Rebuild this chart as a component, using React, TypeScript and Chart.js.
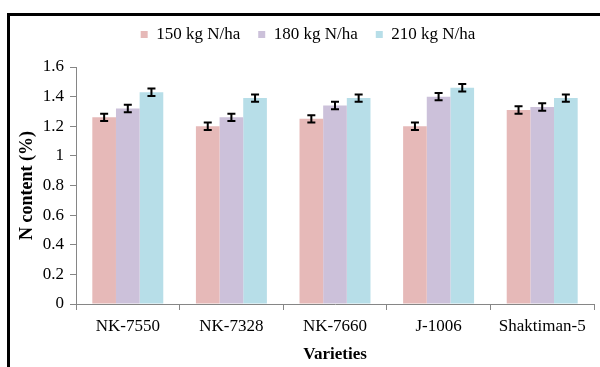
import React, { useEffect, useRef } from "react";
import { Chart, registerables } from "chart.js";

Chart.register(...registerables);

const categories = ["NK-7550", "NK-7328", "NK-7660", "J-1006", "Shaktiman-5"];
const seriesNames = ["150 kg N/ha", "180 kg N/ha", "210 kg N/ha"];
const n150 = [1.26, 1.2, 1.25, 1.2, 1.31];
const n180 = [1.32, 1.26, 1.34, 1.4, 1.33];
const n210 = [1.43, 1.39, 1.39, 1.46, 1.39];
const err150 = [0.025, 0.025, 0.025, 0.025, 0.025];
const err180 = [0.025, 0.025, 0.025, 0.025, 0.025];
const err210 = [0.025, 0.025, 0.025, 0.025, 0.025];
const yTickLabels = ["0", "0.2", "0.4", "0.6", "0.8", "1", "1.2", "1.4", "1.6"];
const yTitle = "N content (%)";
const xTitle = "Varieties";

const colors = ["#E6B9B8", "#CCC1DA", "#B7DEE8"];
const FONT = "'Liberation Serif', 'Times New Roman', serif";
const AXIS = "#868686";

const errorBarPlugin = {
  id: "errorBars",
  afterDatasetsDraw(chart: any) {
    const ctx = chart.ctx;
    const yScale = chart.scales.y;
    ctx.save();
    ctx.strokeStyle = "#000";
    ctx.lineWidth = 2;
    chart.data.datasets.forEach((ds: any, di: number) => {
      const meta = chart.getDatasetMeta(di);
      meta.data.forEach((bar: any, i: number) => {
        const v = ds.data[i];
        const e = ds.errors[i];
        const x = bar.x;
        const yTop = yScale.getPixelForValue(v + e);
        const yBot = yScale.getPixelForValue(v - e);
        const cap = 4;
        ctx.beginPath();
        ctx.moveTo(x, yTop);
        ctx.lineTo(x, yBot);
        ctx.moveTo(x - cap, yTop);
        ctx.lineTo(x + cap, yTop);
        ctx.moveTo(x - cap, yBot);
        ctx.lineTo(x + cap, yBot);
        ctx.stroke();
      });
    });
    ctx.restore();
  },
};

const legendMarginPlugin = {
  id: "legendMargin",
  beforeInit(chart: any) {
    if (!chart.legend) return;
    const origFit = chart.legend.fit;
    chart.legend.fit = function () {
      origFit.call(this);
      this.height += 14;
    };
  },
};

export default function App() {
  const ref = useRef<HTMLCanvasElement | null>(null);

  useEffect(() => {
    if (!ref.current) return;
    const chart = new Chart(ref.current, {
      type: "bar",
      data: {
        labels: categories,
        datasets: [
          { label: seriesNames[0], data: n150, errors: err150, backgroundColor: colors[0] } as any,
          { label: seriesNames[1], data: n180, errors: err180, backgroundColor: colors[1] } as any,
          { label: seriesNames[2], data: n210, errors: err210, backgroundColor: colors[2] } as any,
        ],
      },
      options: {
        animation: false,
        responsive: false,
        maintainAspectRatio: false,
        layout: { padding: { left: 22, right: 6, top: 8, bottom: 0 } },
        datasets: { bar: { categoryPercentage: 0.685, barPercentage: 1.0 } },
        plugins: {
          legend: {
            display: true,
            position: "top",
            labels: {
              boxWidth: 7,
              boxHeight: 7,
              padding: 18,
              color: "#000",
              font: { family: FONT, size: 17 },
            },
          },
          tooltip: { enabled: false },
          title: { display: false },
        },
        scales: {
          x: {
            afterFit(scale: any) {
              scale.height = 63;
            },
            grid: {
              display: true,
              drawOnChartArea: false,
              drawTicks: true,
              tickLength: 6,
              color: AXIS,
              offset: true,
            },
            border: { display: true, color: AXIS, width: 1 },
            ticks: { color: "#000", padding: 6, font: { family: FONT, size: 17 }, maxRotation: 0 },
            title: {
              display: true,
              text: xTitle,
              color: "#000",
              font: { family: FONT, size: 17, weight: "bold" },
              padding: { top: 0, bottom: 2 },
            },
          },
          y: {
            min: 0,
            max: 1.6,
            afterFit(scale: any) {
              scale.width = 54;
            },
            grid: {
              display: true,
              drawOnChartArea: false,
              drawTicks: true,
              tickLength: 6,
              color: AXIS,
            },
            border: { display: true, color: AXIS, width: 1 },
            ticks: {
              stepSize: 0.2,
              color: "#000",
              padding: 6,
              font: { family: FONT, size: 17 },
              callback: (_v: any, i: number) => yTickLabels[i],
            },
            title: {
              display: true,
              text: yTitle,
              color: "#000",
              font: { family: FONT, size: 18, weight: "bold" },
              padding: { top: -5, bottom: 0 },
            },
          },
        },
      },
      plugins: [errorBarPlugin, legendMarginPlugin],
    } as any);
    return () => chart.destroy();
  }, []);

  return (
    <div
      style={{
        position: "fixed",
        left: 0,
        top: 0,
        width: 600,
        height: 367,
        overflow: "hidden",
        background: "#fff",
      }}
    >
      <div
        style={{
          position: "absolute",
          left: 7,
          top: 13,
          width: 700,
          height: 500,
          borderTop: "3px solid #000",
          borderLeft: "3px solid #000",
          boxSizing: "border-box",
        }}
      />
      <canvas
        ref={ref}
        width={600}
        height={367}
        style={{ position: "absolute", left: 0, top: 0, width: 600, height: 367 }}
      />
    </div>
  );
}
